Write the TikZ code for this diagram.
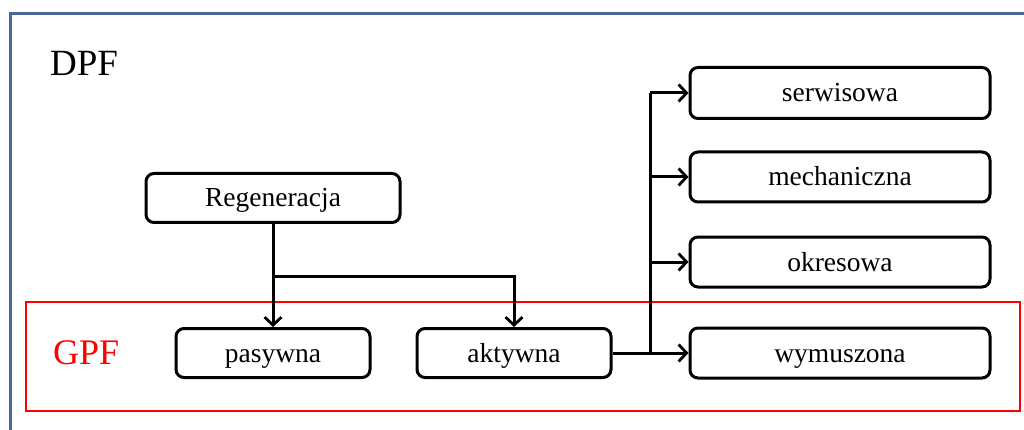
\documentclass[tikz,border=0pt]{standalone}
\usepackage{fontspec}
\setmainfont{Liberation Serif}
\usetikzlibrary{arrows.meta}
\begin{document}
\begin{tikzpicture}[x=1pt,y=-1pt,
  box/.style={draw=black,line width=3pt,rounded corners=8pt,inner sep=0pt,text height=20pt,text depth=2pt,font=\fontsize{27.5}{30}\selectfont},
  conn/.style={line width=3pt,-{Straight Barb[length=8pt,width=17pt,line width=2.8pt]}},
  plain/.style={line width=3pt}]
\useasboundingbox (0,0) rectangle (1024,430);
% outer frame
\draw[color={rgb,255:red,74;green,104;blue,150},line width=3pt] (10,432) -- (10,14) -- (1026,14);
% GPF frame
\draw[red,line width=2.6pt] (26,302) rectangle (1020,411);
\node[font=\fontsize{37}{42}\selectfont,anchor=west,inner sep=0pt] (dpf) at (50,63) {DPF};
\node[font=\fontsize{36}{42}\selectfont,anchor=west,inner sep=0pt,text=red] (gpf) at (53,353) {GPF};
% boxes
\node[box,minimum width=254pt,minimum height=49pt] (reg) at (273,198) {Regeneracja};
\node[box,minimum width=194pt,minimum height=49pt] (pas) at (273,353) {pasywna};
\node[box,minimum width=194pt,minimum height=49pt] (akt) at (514,353) {aktywna};
\node[box,minimum width=300pt,minimum height=51pt] (ser) at (840,93) {serwisowa};
\node[box,minimum width=300pt,minimum height=50pt] (mech) at (840,177) {mechaniczna};
\node[box,minimum width=300pt,minimum height=50pt] (okr) at (840,262) {okresowa};
\node[box,minimum width=300pt,minimum height=50pt] (wym) at (840,353) {wymuszona};
% connectors
\coordinate (j1) at (273,276);
\coordinate (trunk) at (650,353);
\coordinate (top) at (650,93);
\draw[conn] (reg.south) -- (pas.north);
\draw[conn] (j1) -| (akt.north);
\draw[conn] (akt.east) -- (wym.west);
\draw[plain] (trunk) -- (top);
\draw[conn] (top) -- (ser.west);
\draw[conn] (trunk |- mech.west) -- (mech.west);
\draw[conn] (trunk |- okr.west) -- (okr.west);
\end{tikzpicture}
\end{document}
